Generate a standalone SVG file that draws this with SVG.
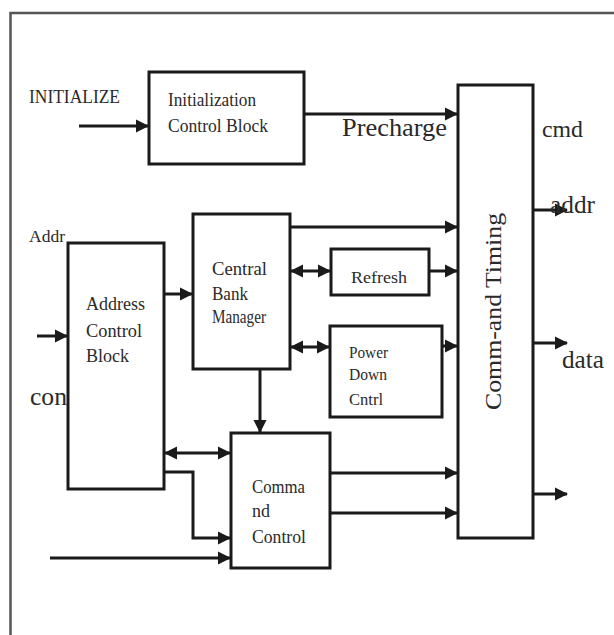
<svg xmlns="http://www.w3.org/2000/svg" width="614" height="635" viewBox="0 0 614 635">
<style>
.box{fill:#fff;stroke:#1a1a1a;stroke-width:3}
.t{font-family:"Liberation Serif","Times New Roman",serif;fill:#2a2a2a}
.c{fill:none;stroke:#1a1a1a;stroke-width:3}
.a{marker-end:url(#ah)}
.d{marker-start:url(#ah);marker-end:url(#ah)}
</style>
<defs>
<marker id="ah" markerUnits="userSpaceOnUse" markerWidth="14" markerHeight="14" refX="12" refY="7" orient="auto-start-reverse">
<path d="M0,0.5 L13,7 L0,13.5 z" fill="#1a1a1a"/>
</marker>
</defs>
<rect width="614" height="635" fill="#fff"/>
<path d="M10.5,635 V13 H614" fill="none" stroke="#555" stroke-width="2.5"/>

<g id="connectors">
<path class="c a" d="M79,126 H148"/>
<path class="c a" d="M304,114 H457"/>
<path class="c a" d="M290,227 H457"/>
<path class="c d" d="M291,271 H330"/>
<path class="c a" d="M429,271 H457"/>
<path class="c d" d="M291,347 H329"/>
<path class="c a" d="M428,346 H457"/>
<path class="c a" d="M37,336 H67"/>
<path class="c a" d="M164,294 H192"/>
<path class="c a" d="M260,369 V432"/>
<path class="c d" d="M165,453 H230"/>
<path class="c a" d="M164,472 H193 V538 H230"/>
<path class="c a" d="M50,558 H230"/>
<path class="c a" d="M330,473 H457"/>
<path class="c a" d="M330,513 H457"/>
<path class="c a" d="M533,210 H567"/>
<path class="c a" d="M533,343 H567"/>
<path class="c a" d="M533,494 H567"/>
</g>

<g id="init">
<rect class="box" x="149" y="72" width="155" height="92"/>
<text class="t" x="168" y="106" font-size="19" textLength="88" lengthAdjust="spacingAndGlyphs">Initialization</text>
<text class="t" x="168" y="132" font-size="19" textLength="100" lengthAdjust="spacingAndGlyphs">Control Block</text>
</g>

<g id="comm">
<rect class="box" x="458" y="85" width="75" height="453"/>
<text class="t" transform="translate(501,311.5) rotate(-90)" text-anchor="middle" font-size="24" textLength="197" lengthAdjust="spacingAndGlyphs">Comm-and Timing</text>
</g>

<g id="address">
<rect class="box" x="68" y="243" width="96" height="246"/>
<text class="t" font-size="19" x="86" y="310" textLength="59" lengthAdjust="spacingAndGlyphs">Address</text>
<text class="t" font-size="19" x="86" y="337" textLength="56" lengthAdjust="spacingAndGlyphs">Control</text>
<text class="t" font-size="19" x="86" y="362" textLength="43" lengthAdjust="spacingAndGlyphs">Block</text>
</g>

<g id="cbm">
<rect class="box" x="193" y="214" width="97" height="155"/>
<text class="t" font-size="18" x="212" y="275" textLength="55" lengthAdjust="spacingAndGlyphs">Central</text>
<text class="t" font-size="18" x="212" y="300" textLength="36" lengthAdjust="spacingAndGlyphs">Bank</text>
<text class="t" font-size="18" x="212" y="323" textLength="54" lengthAdjust="spacingAndGlyphs">Manager</text>
</g>

<g id="refresh">
<rect class="box" x="331" y="249" width="98" height="46"/>
<text class="t" font-size="17" x="351" y="283" textLength="56" lengthAdjust="spacingAndGlyphs">Refresh</text>
</g>

<g id="powerdown">
<rect class="box" x="330" y="326" width="112" height="91"/>
<text class="t" font-size="16" x="349" y="358" textLength="39" lengthAdjust="spacingAndGlyphs">Power</text>
<text class="t" font-size="16" x="349" y="380" textLength="38" lengthAdjust="spacingAndGlyphs">Down</text>
<text class="t" font-size="16" x="349" y="405" textLength="34" lengthAdjust="spacingAndGlyphs">Cntrl</text>
</g>

<g id="cmdctl">
<rect class="box" x="231" y="433" width="99" height="135"/>
<text class="t" font-size="18" x="252" y="493" textLength="53" lengthAdjust="spacingAndGlyphs">Comma</text>
<text class="t" font-size="18" x="252" y="517" textLength="18" lengthAdjust="spacingAndGlyphs">nd</text>
<text class="t" font-size="18" x="252" y="543" textLength="54" lengthAdjust="spacingAndGlyphs">Control</text>
</g>

<g id="labels">
<text class="t" x="29" y="103" font-size="18" textLength="91" lengthAdjust="spacingAndGlyphs">INITIALIZE</text>
<text class="t" x="342" y="136" font-size="26" textLength="105" lengthAdjust="spacingAndGlyphs">Precharge</text>
<text class="t" x="542" y="137" font-size="23" textLength="41" lengthAdjust="spacingAndGlyphs">cmd</text>
<text class="t" x="550" y="213" font-size="25" textLength="45" lengthAdjust="spacingAndGlyphs">addr</text>
<text class="t" x="562" y="368" font-size="25" textLength="42" lengthAdjust="spacingAndGlyphs">data</text>
<text class="t" x="29" y="242" font-size="17" textLength="36" lengthAdjust="spacingAndGlyphs">Addr</text>
<text class="t" x="30" y="405" font-size="25" textLength="37" lengthAdjust="spacingAndGlyphs">con</text>
</g>
</svg>
